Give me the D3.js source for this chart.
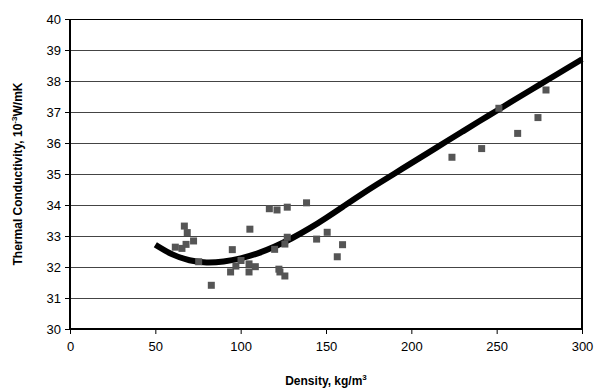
<!DOCTYPE html>
<html><head><meta charset="utf-8">
<script src="https://cdn.jsdelivr.net/npm/d3@7"></script>
<style>body{margin:0;background:#fff;}svg{display:block;}</style>
</head><body>
<script>
const xTicks = [0, 50, 100, 150, 200, 250, 300];
const yTicks = [30, 31, 32, 33, 34, 35, 36, 37, 38, 39, 40];
const pointDensity = [61.7, 65.6, 67.0, 68.7, 68.0, 72.4, 75.4, 82.8, 95.1, 94.1, 97.2, 100.2, 105.4, 104.9, 104.9, 108.6, 116.8, 121.3, 127.3, 138.6, 119.9, 125.9, 127.3, 122.4, 123.0, 125.9, 144.5, 150.7, 159.7, 156.6, 223.8, 241.2, 251.3, 262.3, 274.2, 278.9];
const pointConductivity = [32.64, 32.60, 33.32, 33.11, 32.73, 32.84, 32.17, 31.41, 32.56, 31.84, 32.03, 32.21, 33.22, 31.84, 32.10, 32.01, 33.88, 33.84, 33.93, 34.07, 32.57, 32.74, 32.96, 31.93, 31.84, 31.71, 32.90, 33.12, 32.72, 32.33, 35.54, 35.82, 37.12, 36.31, 36.82, 37.71];
const curveDensity = [50, 60, 70, 80, 90, 100, 110, 120, 130, 140, 150, 160, 170, 180, 190, 200, 210, 220, 230, 240, 250, 260, 270, 280, 290, 300];
const curveConductivity = [32.72, 32.38, 32.20, 32.13, 32.17, 32.27, 32.43, 32.65, 32.92, 33.23, 33.58, 33.95, 34.32, 34.67, 35.01, 35.35, 35.69, 36.03, 36.37, 36.71, 37.04, 37.38, 37.71, 38.04, 38.37, 38.70];

const W = 595, H = 390;
const svg = d3.select("body").append("svg").attr("width", W).attr("height", H)
  .style("font-family", "'Liberation Sans', Arial, sans-serif");

const x = d3.scaleLinear().domain([0, 300]).range([70, 582]);
const y = d3.scaleLinear().domain([30, 40]).range([329, 19]);

// gridlines
svg.append("g").selectAll("line").data(yTicks.filter(v => v > 30)).join("line")
  .attr("x1", x(0)).attr("x2", x(300))
  .attr("y1", d => y(d)).attr("y2", d => y(d))
  .attr("stroke", d => d === 40 ? "#000" : "#444").attr("stroke-width", 1)
  .attr("shape-rendering", "crispEdges");

// right border
svg.append("line").attr("x1", x(300)).attr("x2", x(300)).attr("y1", y(40)).attr("y2", y(30))
  .attr("stroke", "#000").attr("stroke-width", 2);

// axes
const xAxis = d3.axisBottom(x).tickValues(xTicks).tickSize(5).tickPadding(8).tickFormat(d3.format("d"));
const gx = svg.append("g").attr("transform", `translate(0,${y(30)})`).call(xAxis);
gx.select(".domain").attr("stroke-width", 2).attr("d", `M${x(0)},0H${x(300)}`);
gx.selectAll(".tick line").attr("stroke-width", 1);
gx.selectAll("text").attr("font-size", 13).attr("fill", "#000");

const yAxis = d3.axisLeft(y).tickValues(yTicks).tickSize(5).tickPadding(4);
const gy = svg.append("g").attr("transform", `translate(${x(0)},0)`).call(yAxis);
gy.select(".domain").attr("stroke-width", 2).attr("d", `M0,${y(30)}V${y(40)}`);
gy.selectAll("text").attr("font-size", 13).attr("fill", "#000");

// curve
const line = d3.line().x((d, i) => x(curveDensity[i])).y((d, i) => y(curveConductivity[i])).curve(d3.curveBasis);
svg.append("path").datum(curveDensity).attr("d", line)
  .attr("fill", "none").attr("stroke", "#000").attr("stroke-width", 6).attr("stroke-linecap", "butt");

// points
const s = 7;
svg.append("g").selectAll("rect").data(pointDensity).join("rect")
  .attr("x", (d, i) => x(d) - s / 2).attr("y", (d, i) => y(pointConductivity[i]) - s / 2)
  .attr("width", s).attr("height", s).attr("fill", "#555");

// axis titles
const xt = svg.append("text").attr("x", 326).attr("y", 385).attr("text-anchor", "middle")
  .attr("font-size", 12).attr("font-weight", "bold");
xt.append("tspan").text("Density, kg/m");
xt.append("tspan").attr("dy", -5).attr("font-size", 8).text("3");

const yt = svg.append("text").attr("transform", `translate(22,${(y(30) + y(40)) / 2}) rotate(-90)`)
  .attr("text-anchor", "middle").attr("font-size", 12).attr("font-weight", "bold");
yt.append("tspan").text("Thermal Conductivity, 10");
yt.append("tspan").attr("dy", -5).attr("font-size", 8).text("-3");
yt.append("tspan").attr("dy", 5).text("W/mK");
</script>
</body></html>
